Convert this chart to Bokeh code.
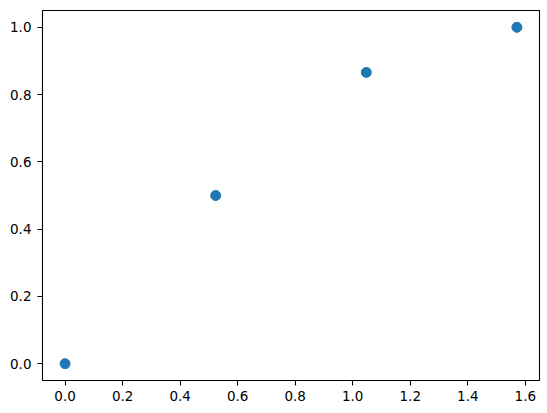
import math
from bokeh.plotting import figure
from bokeh.models import FixedTicker, Range1d, NumeralTickFormatter
from bokeh.embed import file_html
from bokeh.resources import INLINE

x_vals = [0.0, math.pi / 6, math.pi / 3, math.pi / 2]
y_vals = [0.0, 0.5, 0.866, 1.0]
x_ticks = [0.0, 0.2, 0.4, 0.6, 0.8, 1.0, 1.2, 1.4, 1.6]
y_ticks = [0.0, 0.2, 0.4, 0.6, 0.8, 1.0]

xpad = (max(x_vals) - min(x_vals)) * 0.05
ypad = (max(y_vals) - min(y_vals)) * 0.05

p = figure(output_backend="svg", toolbar_location=None,
           frame_width=497, frame_height=370,
           min_border_left=42, min_border_top=10, min_border_right=6, min_border_bottom=26,
           x_range=Range1d(min(x_vals) - xpad, max(x_vals) + xpad),
           y_range=Range1d(min(y_vals) - ypad, max(y_vals) + ypad))

p.scatter(x_vals, y_vals, size=10, color="#1f77b4", line_color="#1f77b4")

p.xgrid.visible = False
p.ygrid.visible = False
p.outline_line_color = "black"
p.outline_line_width = 1.1
p.background_fill_color = "white"
p.border_fill_color = "white"

for ax, ticks in ((p.xaxis[0], x_ticks), (p.yaxis[0], y_ticks)):
    ax.ticker = FixedTicker(ticks=ticks)
    ax.formatter = NumeralTickFormatter(format="0.0")
    ax.minor_tick_line_color = None
    ax.axis_line_color = None
    ax.major_tick_line_color = "black"
    ax.major_tick_line_width = 1.1
    ax.major_tick_out = 5
    ax.major_tick_in = 0
    ax.major_label_text_font = "DejaVu Sans"
    ax.major_label_text_font_size = "13.5px"
    ax.major_label_text_color = "black"

p.xaxis[0].major_label_standoff = 5
p.yaxis[0].major_label_standoff = 6

open("out.html", "w").write(file_html(p, INLINE))
